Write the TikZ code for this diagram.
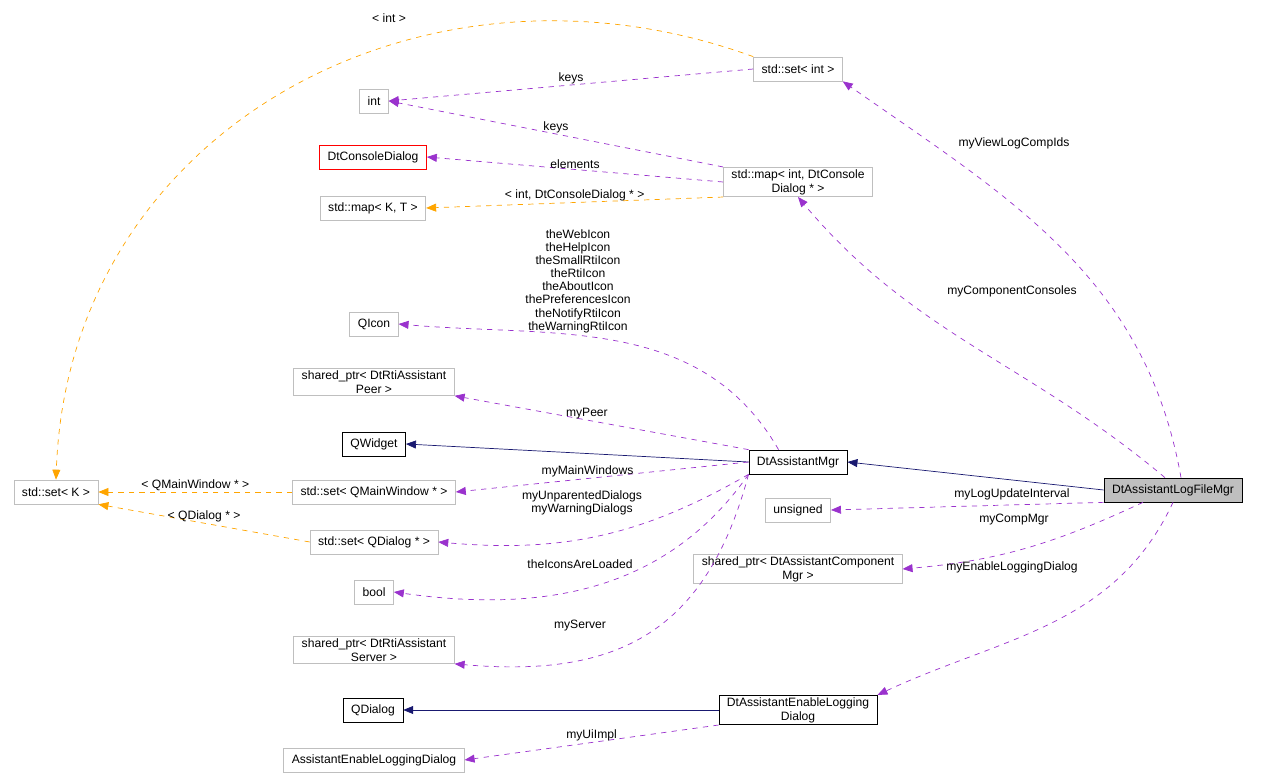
\documentclass[tikz,border=0pt]{standalone}
\usepackage{fontspec}
\setmainfont{Liberation Sans}
\usetikzlibrary{arrows.meta}
\definecolor{edgepurple}{HTML}{9A32CD}
\definecolor{edgeorange}{HTML}{FFA500}
\definecolor{edgenavy}{HTML}{191970}
\definecolor{boxgrey}{HTML}{BFBFBF}
\definecolor{boxred}{HTML}{FF0000}
\tikzset{cls/.style={draw=boxgrey,font=\fontsize{6.9}{8}\selectfont,align=center,minimum height=0.48cm,inner xsep=0.16cm,inner ysep=0.04cm},
strong/.style={cls,draw=black},
member/.style={edgepurple,dashed,-{Triangle[width=0.16cm,length=0.2cm]}},
templ/.style={edgeorange,dashed,-{Triangle[width=0.16cm,length=0.2cm]}},
inherit/.style={edgenavy,-{Triangle[width=0.16cm,length=0.2cm]}},
lbl/.style={font=\fontsize{6.9}{7.5}\selectfont,align=center,text=black,inner sep=0.02cm}}
\begin{document}
\begin{tikzpicture}[x=0.02cm,y=-0.02cm]
\useasboundingbox (0,0) rectangle (1269,780);

%% nodes
\node [cls] (setint) at (798,69) {std::set< int >};
\node [cls] (int) at (374,101) {int};
\node [cls,draw=boxred] (console) at (373,157) {DtConsoleDialog};
\node [cls] (mapkt) at (373,208) {std::map< K, T >};
\node [cls] (mapint) at (798,182) {std::map< int, DtConsole\\Dialog * >};
\node [cls] (qicon) at (374,324) {QIcon};
\node [cls] (peer) at (374,382) {shared\_ptr< DtRtiAssistant\\Peer >};
\node [strong] (qwidget) at (374,444) {QWidget};
\node [cls] (setk) at (56,492) {std::set< K >};
\node [cls] (setwin) at (374,492) {std::set< QMainWindow * >};
\node [cls] (setdlg) at (374,542) {std::set< QDialog * >};
\node [cls] (bool) at (374,592) {bool};
\node [cls] (server) at (374,650) {shared\_ptr< DtRtiAssistant\\Server >};
\node [strong] (qdialog) at (373,710) {QDialog};
\node [cls] (uiimpl) at (374,760) {AssistantEnableLoggingDialog};
\node [strong] (mgr) at (798,462) {DtAssistantMgr};
\node [cls] (unsigned) at (798,510) {unsigned};
\node [cls] (compmgr) at (798,569) {shared\_ptr< DtAssistantComponent\\Mgr >};
\node [strong] (enabledlg) at (798,710) {DtAssistantEnableLogging\\Dialog};
\node [strong,fill=boxgrey] (logmgr) at (1173,490) {DtAssistantLogFileMgr};

%% inheritance
\draw [inherit] (logmgr.west) -- (mgr.east);
\draw [inherit] (mgr.west) -- (qwidget.east);
\draw [inherit] (enabledlg.west) -- (qdialog.east);

%% members of DtAssistantLogFileMgr
\draw [member] (logmgr.north) ++(8,0) to[out=100,in=-35] (setint.south east);
\node [lbl] at (1014,143) {myViewLogCompIds};
\draw [member] (logmgr.north) ++(-8,0) to[out=140,in=-50] (mapint.south);
\node [lbl] at (1012,291) {myComponentConsoles};
\draw [member] (logmgr.south west) -- (unsigned.east);
\node [lbl] at (1012,494) {myLogUpdateInterval};
\draw [member] (logmgr.south) ++(-30,0) to[out=-155,in=5] (compmgr.east);
\node [lbl] at (1014,520) {myCompMgr};
\draw [member] (logmgr.south) to[out=-115,in=25] (enabledlg.north east);
\node [lbl] at (1012,567) {myEnableLoggingDialog};

%% std::set< int > and std::map
\draw [member] (setint.west) -- node [lbl,above] {keys} (int.east);
\draw [member] (mapint.north west) -- node [lbl,above] {keys} (int.east);
\draw [member] (mapint.west) -- node [lbl,above] {elements} (console.east);
\draw [templ] (mapint.south west) -- node [lbl,above] {< int, DtConsoleDialog * >} (mapkt.east);
\draw [templ] (setint.north west) to[out=160,in=88,looseness=1.1] (setk.north);
\node [lbl] at (389,18) {< int >};
\draw [templ] (setwin.west) -- node [lbl,above] {< QMainWindow * >} (setk.east);
\draw [templ] (setdlg.west) -- node [lbl,above] {< QDialog * >} (setk.south east);

%% members of DtAssistantMgr
\draw [member] (mgr.north west) ++(30,0) to[out=120,in=-5] (qicon.east);
\node [lbl] at (578,281) {theWebIcon\\theHelpIcon\\theSmallRtiIcon\\theRtiIcon\\theAboutIcon\\thePreferencesIcon\\theNotifyRtiIcon\\theWarningRtiIcon};
\draw [member] (mgr.north west) -- node [lbl,pos=0.55,above] {myPeer} (peer.south east);
\draw [member] (mgr.west) -- node [lbl,pos=0.55,above] {myMainWindows} (setwin.east);
\draw [member] (mgr.south west) to[out=-150,in=-5] (setdlg.east);
\node [lbl] at (582,503) {myUnparentedDialogs\\myWarningDialogs};
\draw [member] (mgr.south west) to[out=-125,in=-8] (bool.east);
\node [lbl] at (580,564) {theIconsAreLoaded};
\draw [member] (mgr.south west) to[out=-105,in=-5,looseness=1.2] (server.south east);
\node [lbl] at (580,626) {myServer};
\draw [member] (enabledlg.south west) -- node [lbl,above] {myUiImpl} (uiimpl.east);

\end{tikzpicture}
\end{document}
